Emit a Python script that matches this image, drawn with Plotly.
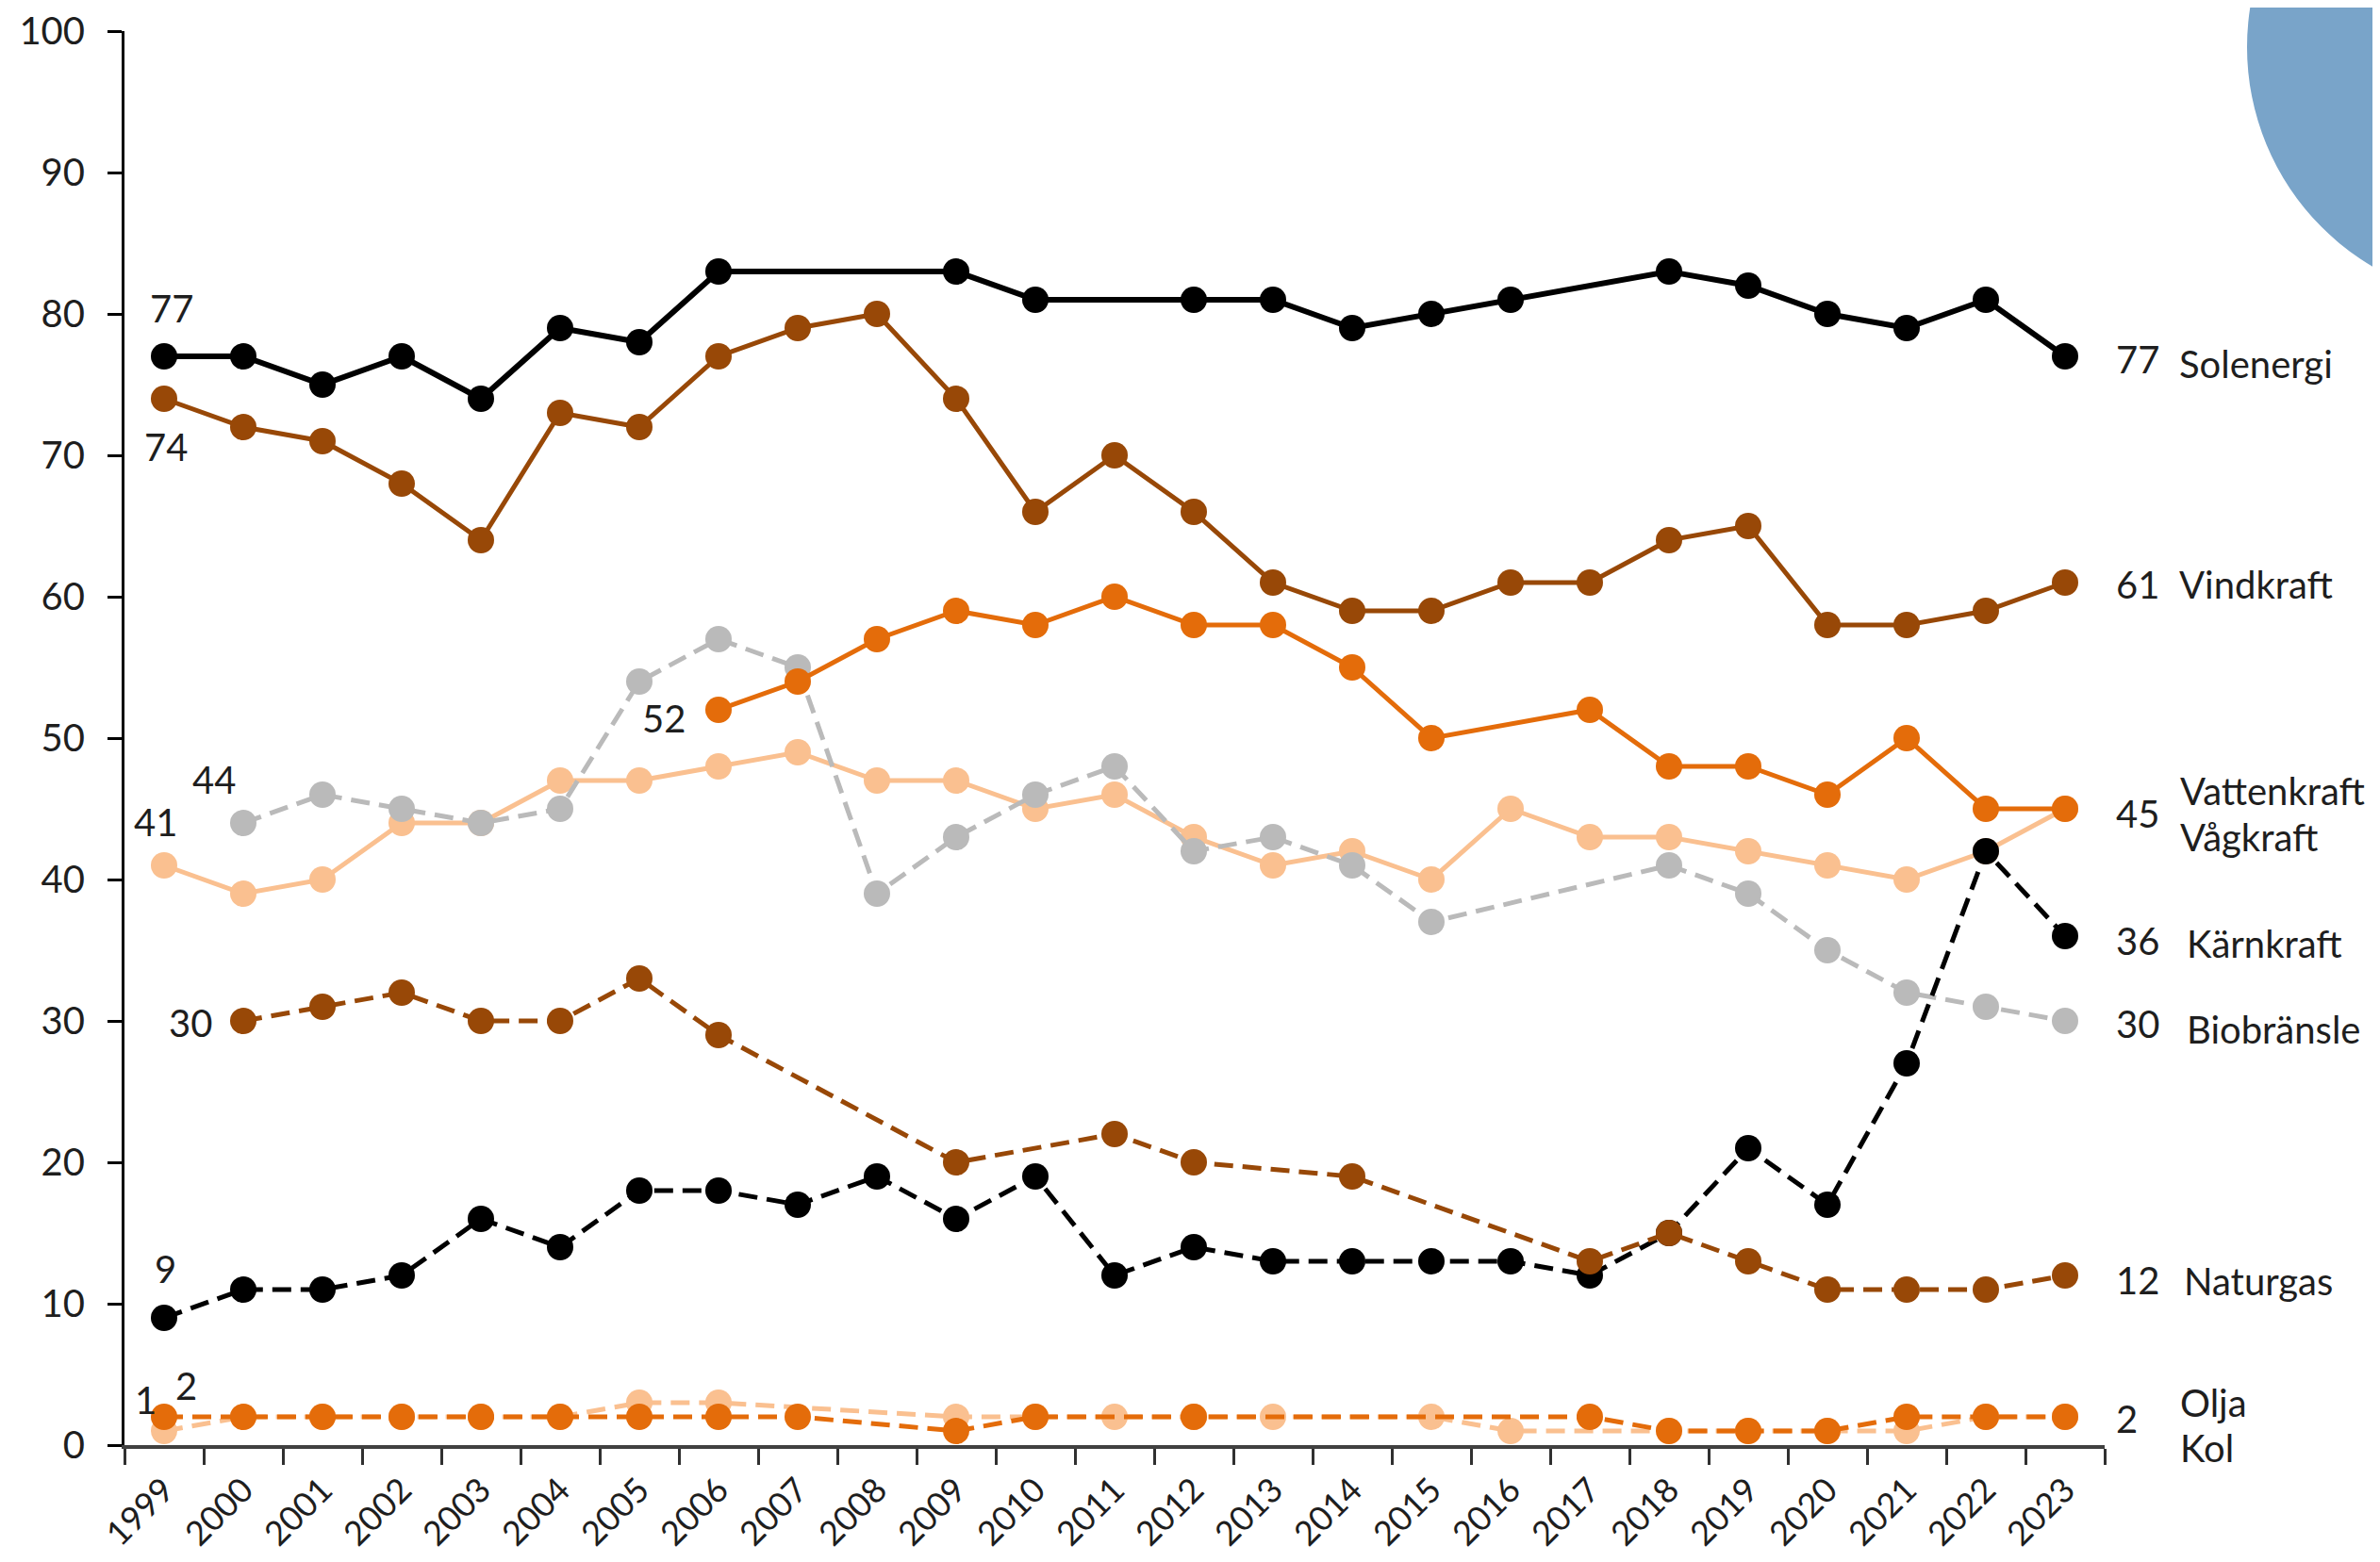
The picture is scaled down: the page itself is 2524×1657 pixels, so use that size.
import plotly.graph_objects as go

years = [str(y) for y in range(1999, 2024)]

# values per year 1999..2023 (None = not measured)
solenergi = [77, 77, 75, 77, 74, 79, 78, 83, None, None, 83, 81, None, 81, 81, 79, 80, 81, None, 83, 82, 80, 79, 81, 77]
vindkraft = [74, 72, 71, 68, 64, 73, 72, 77, 79, 80, 74, 66, 70, 66, 61, 59, 59, 61, 61, 64, 65, 58, 58, 59, 61]
vattenkraft = [None, None, None, None, None, None, None, 52, 54, 57, 59, 58, 60, 58, 58, 55, 50, None, 52, 48, 48, 46, 50, 45, 45]
vagkraft = [41, 39, 40, 44, 44, 47, 47, 48, 49, 47, 47, 45, 46, 43, 41, 42, 40, 45, 43, 43, 42, 41, 40, 42, 45]
karnkraft = [9, 11, 11, 12, 16, 14, 18, 18, 17, 19, 16, 19, 12, 14, 13, 13, 13, 13, 12, 15, 21, 17, 27, 42, 36]
biobransle = [None, 44, 46, 45, 44, 45, 54, 57, 55, 39, 43, 46, 48, 42, 43, 41, 37, None, None, 41, 39, 35, 32, 31, 30]
naturgas = [None, 30, 31, 32, 30, 30, 33, 29, None, None, 20, None, 22, 20, None, 19, None, None, 13, 15, 13, 11, 11, 11, 12]
olja = [2, 2, 2, 2, 2, 2, 2, 2, 2, None, 1, 2, None, 2, None, None, None, None, 2, 1, 1, 1, 2, 2, 2]
kol = [1, 2, 2, 2, 2, 2, 3, 3, None, None, 2, 2, 2, 2, 2, None, 2, 1, None, 1, 1, 1, 1, 2, 2]

BLACK = "#000000"
BROWN = "#984807"
ORANGE = "#E46C0A"
PEACH = "#FAC090"
GRAY = "#BABABA"
TEXT = "#1E1E1E"
FONT = "Lato"
DASH = "20px,10px"

series = [
    ("Vågkraft", vagkraft, PEACH, "solid", 5),
    ("Biobränsle", biobransle, GRAY, DASH, 5),
    ("Vattenkraft", vattenkraft, ORANGE, "solid", 5),
    ("Solenergi", solenergi, BLACK, "solid", 6),
    ("Vindkraft", vindkraft, BROWN, "solid", 5),
    ("Kärnkraft", karnkraft, BLACK, DASH, 5),
    ("Naturgas", naturgas, BROWN, DASH, 5),
    ("Kol", kol, PEACH, DASH, 5),
    ("Olja", olja, ORANGE, DASH, 5),
]

fig = go.Figure()
for name, vals, col, dash, w in series:
    fig.add_trace(go.Scatter(
        x=years, y=vals, name=name, mode="lines+markers",
        connectgaps=True, cliponaxis=False,
        line=dict(color=col, width=w, dash=dash),
        marker=dict(color=col, size=28, line=dict(width=0)),
        showlegend=False,
    ))

# right-hand labels
right_vals = [("77", 76.8), ("61", 60.9), ("45", 44.7), ("36", 35.7), ("30", 29.8), ("12", 11.7), ("2", 1.9)]
right_names = [("Solenergi", 76.5, 1.0365, 0), ("Vindkraft", 60.9, 1.0365, 0), ("Vattenkraft", 46.3, 1.037, 0),
               ("Vågkraft", 43.0, 1.037, 0), ("Kärnkraft", 35.5, 1.0405, 0), ("Biobränsle", 29.4, 1.0405, 0),
               ("Naturgas", 11.6, 1.039, 0), ("Olja", 3.0, 1.037, 0), ("Kol", 0.0, 1.037, -3)]
ann = []
for t, yv in right_vals:
    ann.append(dict(text=t, xref="paper", yref="y", x=1.0048, y=yv, xanchor="left", yanchor="middle",
                    showarrow=False, font=dict(family=FONT, size=40, color=TEXT)))
for t, yv, xp, ys in right_names:
    ann.append(dict(text=t, xref="paper", yref="y", x=xp, y=yv, yshift=ys, xanchor="left", yanchor="middle",
                    showarrow=False, font=dict(family=FONT, size=40, color=TEXT)))

# point labels (x given as category index)
point_labels = [("77", "1999", 80.4, 8), ("74", "1999", 70.6, 2), ("41", "1999", 44.1, -9),
                ("44", "2000", 47.1, -31), ("52", "2006", 51.4, -58), ("30", "2000", 29.9, -56),
                ("9", "1999", 12.5, 1), ("1", "1999", 3.2, -20), ("2", "1999", 4.2, 23)]
for t, xc, yv, xs in point_labels:
    ann.append(dict(text=t, xref="x", yref="y", x=years.index(xc), y=yv, xshift=xs,
                    xanchor="center", yanchor="middle",
                    showarrow=False, font=dict(family=FONT, size=40, color=TEXT)))

fig.update_layout(
    width=2508, height=1641,
    margin=dict(l=124, r=284, t=25, b=116, pad=0, autoexpand=False),
    plot_bgcolor="white", paper_bgcolor="white",
    font=dict(family=FONT, color=TEXT),
    annotations=ann,
    shapes=[dict(type="circle", xref="paper", yref="paper",
                 x0=1.0719, x1=1.329, y0=0.8087, y1=1.1687,
                 fillcolor="#79A4C9", line=dict(width=0), layer="below")],
    xaxis=dict(type="category", categoryorder="array", categoryarray=years,
               range=[-0.5, 24.5], showline=True, linecolor="#404040", linewidth=4,
               ticks="outside", tickson="boundaries", ticklen=17, tickwidth=3, tickcolor="#303030",
               tickangle=-45, tickfont=dict(family=FONT, size=36, color=TEXT),
               showgrid=False, zeroline=False, ticklabelstandoff=8, automargin=False),
    yaxis=dict(range=[0, 100], dtick=10, tick0=0, showline=True, linecolor="black", linewidth=3,
               ticks="outside", ticklen=15, tickwidth=3, tickcolor="black",
               tickfont=dict(family=FONT, size=40, color=TEXT),
               showgrid=False, zeroline=False, ticklabelstandoff=16, automargin=False),
)

fig.write_html("out.html")
